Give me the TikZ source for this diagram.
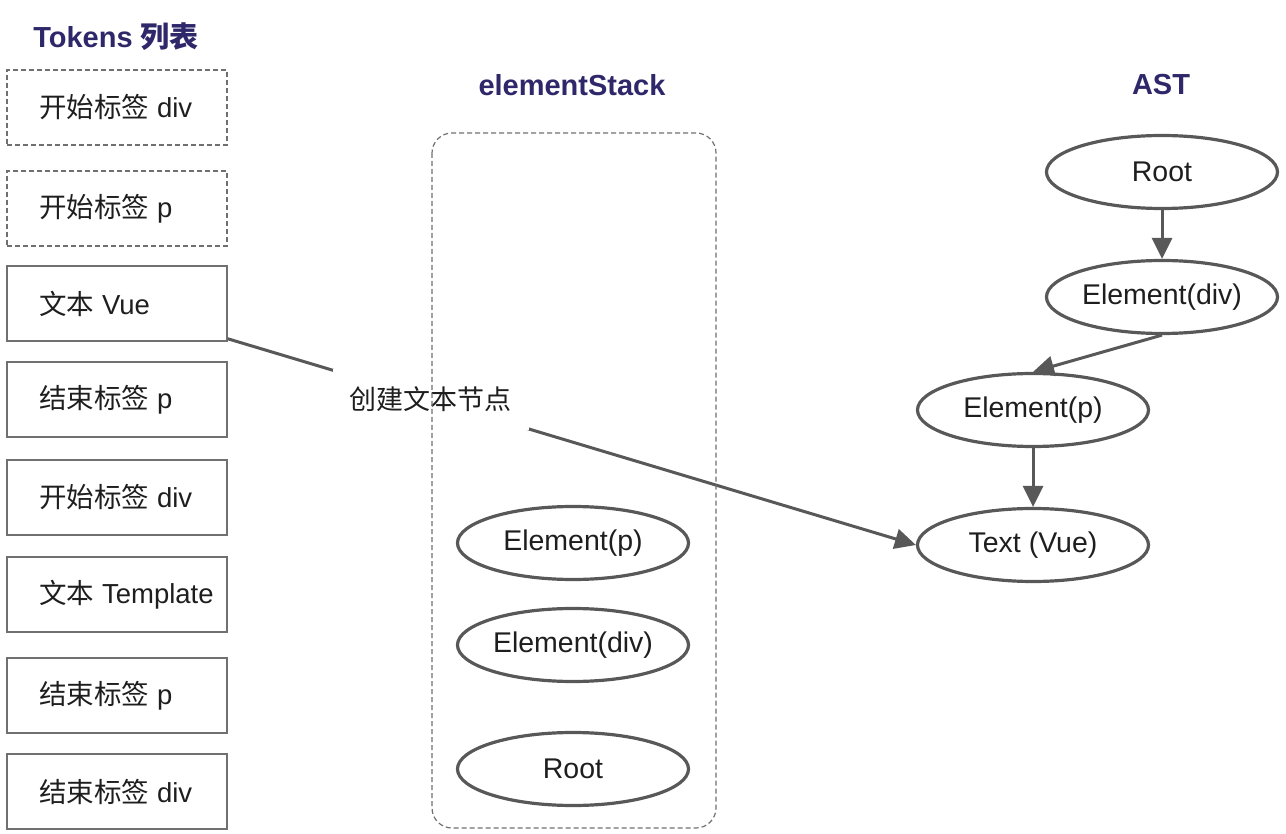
\documentclass[tikz,border=0pt]{standalone}
\usepackage{fontspec}
\setmainfont{Liberation Sans}
\newfontfamily\cjk{Noto Sans CJK SC}
\usetikzlibrary{shapes.geometric,arrows.meta}
\definecolor{ttl}{RGB}{46,40,106}
\definecolor{edgec}{RGB}{88,88,88}
\definecolor{bord}{RGB}{112,112,112}
\definecolor{txt}{RGB}{30,30,30}
\begin{document}
\begin{tikzpicture}[x=1pt,y=-1pt,
  tok/.style={draw=bord,line width=1.5pt,minimum width=220pt,minimum height=75pt,inner sep=0pt},
  tokd/.style={tok,dash pattern=on 5pt off 3pt},
  toktext/.style={anchor=west,inner sep=0pt,font=\fontsize{27.5}{32}\selectfont,text=txt},
  ell/.style={ellipse,draw=edgec,line width=3.2pt,minimum width=231pt,minimum height=73pt,inner sep=0pt,font=\fontsize{28.5}{33}\selectfont,text=txt},
  ttlstyle/.style={font=\bfseries\fontsize{29}{34}\selectfont,text=ttl},
  arr/.style={draw=edgec,line width=3pt,-{Triangle[length=21pt,width=20pt]}}]
\useasboundingbox (0,0) rectangle (1286,834);
% titles
\node[ttlstyle] (tt1) at (116,37) {Tokens {\cjk 列表}};
\node[ttlstyle] (tt2) at (572,85) {elementStack};
\node[ttlstyle] (tt3) at (1161,85) {AST};
% token boxes
\node[tokd] (t1) at (117,107.5) {};
\node[tokd] (t2) at (117,208.5) {};
\node[tok] (t3) at (117,303.5) {};
\node[tok] (t4) at (117,399.5) {};
\node[tok] (t5) at (117,497.5) {};
\node[tok] (t6) at (117,594.5) {};
\node[tok] (t7) at (117,695.5) {};
\node[tok] (t8) at (117,791.5) {};
\node[toktext] (l1) at ([xshift=33pt]t1.west) {{\cjk 开始标签} div};
\node[toktext] (l2) at ([xshift=33pt]t2.west) {{\cjk 开始标签} p};
\node[toktext] (l3) at ([xshift=33pt]t3.west) {{\cjk 文本} Vue};
\node[toktext] (l4) at ([xshift=33pt]t4.west) {{\cjk 结束标签} p};
\node[toktext] (l5) at ([xshift=33pt]t5.west) {{\cjk 开始标签} div};
\node[toktext] (l6) at ([xshift=33pt]t6.west) {{\cjk 文本} Template};
\node[toktext] (l7) at ([xshift=33pt]t7.west) {{\cjk 结束标签} p};
\node[toktext] (l8) at ([xshift=33pt]t8.west) {{\cjk 结束标签} div};
% AST
\node[ell] (aroot) at (1162,172) {Root};
\node[ell] (adiv) at (1162,297) {Element(div)};
\node[ell] (ap) at (1033,410) {Element(p)};
\node[ell] (atext) at (1033,545) {Text (Vue)};
\draw[arr] (aroot) -- (adiv);
\draw[arr] (adiv.south) -- (ap.north);
\draw[arr] (ap) -- (atext);
% connector
\coordinate (cs) at ([yshift=3pt]t3.south east);
\draw[arr] (cs) -- node[pos=0.295,fill=white,inner xsep=17pt,inner ysep=18pt,font=\cjk\fontsize{27}{32}\selectfont,text=txt] (lbl) {创建文本节点} (atext.west);
% stack
\draw[draw=bord,line width=1.2pt,dash pattern=on 5pt off 3pt,rounded corners=20pt] (432,133) rectangle (716,828);
\node[ell] (sp) at (573,543) {Element(p)};
\node[ell] (sdiv) at (573,645) {Element(div)};
\node[ell] (sroot) at (573,769) {Root};
\end{tikzpicture}
\end{document}
